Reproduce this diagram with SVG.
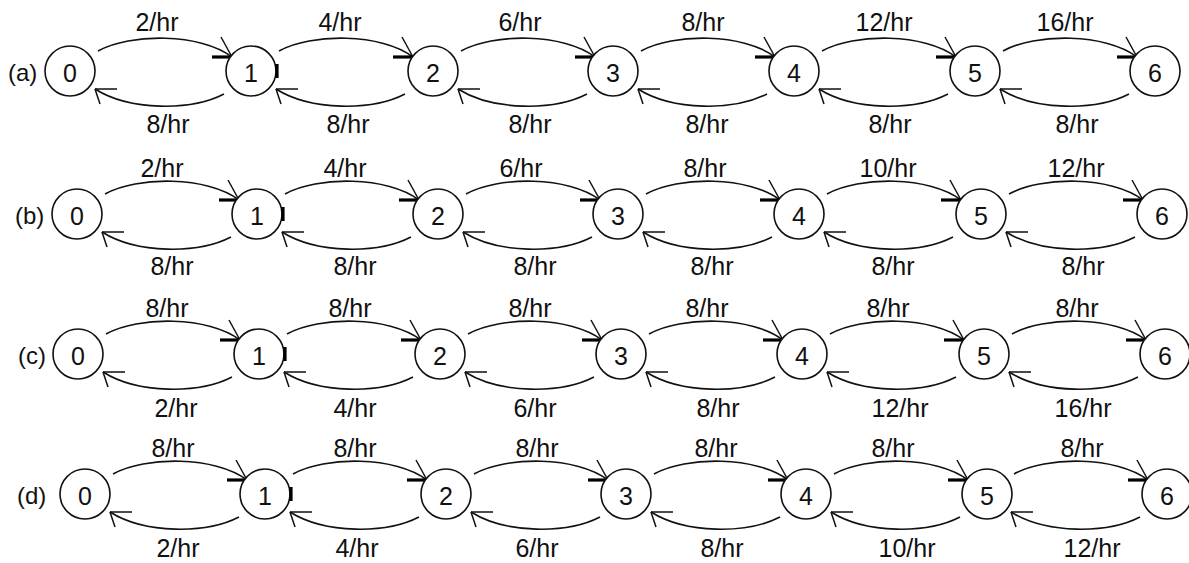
<svg xmlns="http://www.w3.org/2000/svg" xmlns:xlink="http://www.w3.org/1999/xlink" width="1189" height="563" viewBox="0 0 1189 563">
  <style>
    .st { fill: #fff; stroke: #111; stroke-width: 1.6; }
    .num { font-family: "Liberation Sans", Arial, sans-serif; font-size: 25px; fill: #111; text-anchor: middle; }
    .rowlbl { font-family: "Liberation Sans", Arial, sans-serif; font-size: 24px; fill: #111; }
    .rate { font-family: "Liberation Sans", Arial, sans-serif; font-size: 25px; fill: #111; text-anchor: middle; }
    .arc { fill: none; stroke: #111; stroke-width: 1.6; }
    .barb { fill: none; stroke: #111; stroke-width: 1.5; }
    .barb-thick { fill: none; stroke: #000; stroke-width: 3.2; }
  </style>
  <defs>
    <!-- open arrowheads with fixed orientation -->
    <marker id="headFwd" markerUnits="userSpaceOnUse" orient="0" refX="0" refY="0" markerWidth="1" markerHeight="1" style="overflow:visible">
      <path class="barb-thick" d="M-20 0 H0"/>
      <path class="barb" d="M-11 -20 L0 0"/>
    </marker>
    <marker id="headBack" markerUnits="userSpaceOnUse" orient="0" refX="0" refY="0" markerWidth="1" markerHeight="1" style="overflow:visible">
      <path class="barb" d="M0 0 H22 M0 0 L5 15"/>
    </marker>
    <!-- arcs relative to the left state's centre; right state sits 181 px further on -->
    <path id="fwd" class="arc" d="M28 -20 C60 -38 131 -38 162 -14" marker-end="url(#headFwd)"/>
    <path id="back" class="arc" d="M154 23 C121 40 60 40 25 18" marker-end="url(#headBack)"/>
  </defs>
  <rect width="1189" height="563" fill="#fff"/>

  <g id="connectors">
    <!-- row (a) -->
    <use href="#fwd" x="70" y="71"/><use href="#back" x="70" y="71"/>
    <use href="#fwd" x="251" y="71"/><use href="#back" x="251" y="71"/>
    <use href="#fwd" x="433" y="71"/><use href="#back" x="433" y="71"/>
    <use href="#fwd" x="613" y="71"/><use href="#back" x="613" y="71"/>
    <use href="#fwd" x="794" y="71"/><use href="#back" x="794" y="71"/>
    <use href="#fwd" x="975" y="71"/><use href="#back" x="975" y="71"/>
    <!-- row (b) -->
    <use href="#fwd" x="77" y="214"/><use href="#back" x="77" y="214"/>
    <use href="#fwd" x="257" y="214"/><use href="#back" x="257" y="214"/>
    <use href="#fwd" x="438" y="214"/><use href="#back" x="438" y="214"/>
    <use href="#fwd" x="618" y="214"/><use href="#back" x="618" y="214"/>
    <use href="#fwd" x="799" y="214"/><use href="#back" x="799" y="214"/>
    <use href="#fwd" x="981" y="214"/><use href="#back" x="981" y="214"/>
    <!-- row (c) -->
    <use href="#fwd" x="78" y="354"/><use href="#back" x="78" y="354"/>
    <use href="#fwd" x="259" y="354"/><use href="#back" x="259" y="354"/>
    <use href="#fwd" x="440" y="354"/><use href="#back" x="440" y="354"/>
    <use href="#fwd" x="621" y="354"/><use href="#back" x="621" y="354"/>
    <use href="#fwd" x="802" y="354"/><use href="#back" x="802" y="354"/>
    <use href="#fwd" x="984" y="354"/><use href="#back" x="984" y="354"/>
    <!-- row (d) -->
    <use href="#fwd" x="85" y="494"/><use href="#back" x="85" y="494"/>
    <use href="#fwd" x="265" y="494"/><use href="#back" x="265" y="494"/>
    <use href="#fwd" x="446" y="494"/><use href="#back" x="446" y="494"/>
    <use href="#fwd" x="626" y="494"/><use href="#back" x="626" y="494"/>
    <use href="#fwd" x="806" y="494"/><use href="#back" x="806" y="494"/>
    <use href="#fwd" x="986" y="494"/><use href="#back" x="986" y="494"/>
  </g>

  <g id="rates">
    <!-- row (a) -->
    <text class="rate" x="157" y="31">2/hr</text>
    <text class="rate" x="340" y="31">4/hr</text>
    <text class="rate" x="520" y="31">6/hr</text>
    <text class="rate" x="703" y="31">8/hr</text>
    <text class="rate" x="884" y="31">12/hr</text>
    <text class="rate" x="1065" y="31">16/hr</text>
    <text class="rate" x="168" y="133">8/hr</text>
    <text class="rate" x="348" y="133">8/hr</text>
    <text class="rate" x="530" y="133">8/hr</text>
    <text class="rate" x="707" y="133">8/hr</text>
    <text class="rate" x="890" y="133">8/hr</text>
    <text class="rate" x="1077" y="133">8/hr</text>
    <!-- row (b) -->
    <text class="rate" x="162" y="177">2/hr</text>
    <text class="rate" x="345" y="177">4/hr</text>
    <text class="rate" x="521" y="177">6/hr</text>
    <text class="rate" x="705" y="177">8/hr</text>
    <text class="rate" x="888" y="177">10/hr</text>
    <text class="rate" x="1076" y="177">12/hr</text>
    <text class="rate" x="172" y="275">8/hr</text>
    <text class="rate" x="355" y="275">8/hr</text>
    <text class="rate" x="535" y="275">8/hr</text>
    <text class="rate" x="712" y="275">8/hr</text>
    <text class="rate" x="893" y="275">8/hr</text>
    <text class="rate" x="1083" y="275">8/hr</text>
    <!-- row (c) -->
    <text class="rate" x="167" y="317">8/hr</text>
    <text class="rate" x="350" y="317">8/hr</text>
    <text class="rate" x="530" y="317">8/hr</text>
    <text class="rate" x="707" y="317">8/hr</text>
    <text class="rate" x="888" y="317">8/hr</text>
    <text class="rate" x="1077" y="317">8/hr</text>
    <text class="rate" x="176" y="417">2/hr</text>
    <text class="rate" x="355" y="417">4/hr</text>
    <text class="rate" x="535" y="417">6/hr</text>
    <text class="rate" x="718" y="417">8/hr</text>
    <text class="rate" x="900" y="417">12/hr</text>
    <text class="rate" x="1083" y="417">16/hr</text>
    <!-- row (d) -->
    <text class="rate" x="173" y="457">8/hr</text>
    <text class="rate" x="355" y="457">8/hr</text>
    <text class="rate" x="537" y="457">8/hr</text>
    <text class="rate" x="716" y="457">8/hr</text>
    <text class="rate" x="893" y="457">8/hr</text>
    <text class="rate" x="1082" y="457">8/hr</text>
    <text class="rate" x="178" y="557">2/hr</text>
    <text class="rate" x="357" y="557">4/hr</text>
    <text class="rate" x="537" y="557">6/hr</text>
    <text class="rate" x="722" y="557">8/hr</text>
    <text class="rate" x="907" y="557">10/hr</text>
    <text class="rate" x="1092" y="557">12/hr</text>
  </g>

  <g id="row-labels">
    <text class="rowlbl" x="8" y="81">(a)</text>
    <text class="rowlbl" x="15" y="224">(b)</text>
    <text class="rowlbl" x="18" y="364">(c)</text>
    <text class="rowlbl" x="17" y="504">(d)</text>
  </g>

  <!-- row (a) states -->
  <g id="a0"><circle class="st" cx="70" cy="71" r="25"/><text class="num" x="70" y="82">0</text></g>
  <g id="a1"><circle class="st" cx="251" cy="71" r="25"/><text class="num" x="251" y="82">1</text><path class="barb-thick" d="M277 64 V78"/></g>
  <g id="a2"><circle class="st" cx="433" cy="71" r="25"/><text class="num" x="433" y="82">2</text></g>
  <g id="a3"><circle class="st" cx="613" cy="71" r="25"/><text class="num" x="613" y="82">3</text></g>
  <g id="a4"><circle class="st" cx="794" cy="71" r="25"/><text class="num" x="794" y="82">4</text></g>
  <g id="a5"><circle class="st" cx="975" cy="71" r="25"/><text class="num" x="975" y="82">5</text></g>
  <g id="a6"><circle class="st" cx="1155" cy="71" r="25"/><text class="num" x="1155" y="82">6</text></g>

  <!-- row (b) states -->
  <g id="b0"><circle class="st" cx="77" cy="214" r="25"/><text class="num" x="77" y="225">0</text></g>
  <g id="b1"><circle class="st" cx="257" cy="214" r="25"/><text class="num" x="257" y="225">1</text><path class="barb-thick" d="M283 207 V221"/></g>
  <g id="b2"><circle class="st" cx="438" cy="214" r="25"/><text class="num" x="438" y="225">2</text></g>
  <g id="b3"><circle class="st" cx="618" cy="214" r="25"/><text class="num" x="618" y="225">3</text></g>
  <g id="b4"><circle class="st" cx="799" cy="214" r="25"/><text class="num" x="799" y="225">4</text></g>
  <g id="b5"><circle class="st" cx="981" cy="214" r="25"/><text class="num" x="981" y="225">5</text></g>
  <g id="b6"><circle class="st" cx="1162" cy="214" r="25"/><text class="num" x="1162" y="225">6</text></g>

  <!-- row (c) states -->
  <g id="c0"><circle class="st" cx="78" cy="354" r="25"/><text class="num" x="78" y="365">0</text></g>
  <g id="c1"><circle class="st" cx="259" cy="354" r="25"/><text class="num" x="259" y="365">1</text><path class="barb-thick" d="M285 347 V361"/></g>
  <g id="c2"><circle class="st" cx="440" cy="354" r="25"/><text class="num" x="440" y="365">2</text></g>
  <g id="c3"><circle class="st" cx="621" cy="354" r="25"/><text class="num" x="621" y="365">3</text></g>
  <g id="c4"><circle class="st" cx="802" cy="354" r="25"/><text class="num" x="802" y="365">4</text></g>
  <g id="c5"><circle class="st" cx="984" cy="354" r="25"/><text class="num" x="984" y="365">5</text></g>
  <g id="c6"><circle class="st" cx="1165" cy="354" r="25"/><text class="num" x="1165" y="365">6</text></g>

  <!-- row (d) states -->
  <g id="d0"><circle class="st" cx="85" cy="494" r="25"/><text class="num" x="85" y="505">0</text></g>
  <g id="d1"><circle class="st" cx="265" cy="494" r="25"/><text class="num" x="265" y="505">1</text><path class="barb-thick" d="M291 487 V501"/></g>
  <g id="d2"><circle class="st" cx="446" cy="494" r="25"/><text class="num" x="446" y="505">2</text></g>
  <g id="d3"><circle class="st" cx="626" cy="494" r="25"/><text class="num" x="626" y="505">3</text></g>
  <g id="d4"><circle class="st" cx="806" cy="494" r="25"/><text class="num" x="806" y="505">4</text></g>
  <g id="d5"><circle class="st" cx="987" cy="494" r="25"/><text class="num" x="987" y="505">5</text></g>
  <g id="d6"><circle class="st" cx="1167" cy="494" r="25"/><text class="num" x="1167" y="505">6</text></g>
</svg>
